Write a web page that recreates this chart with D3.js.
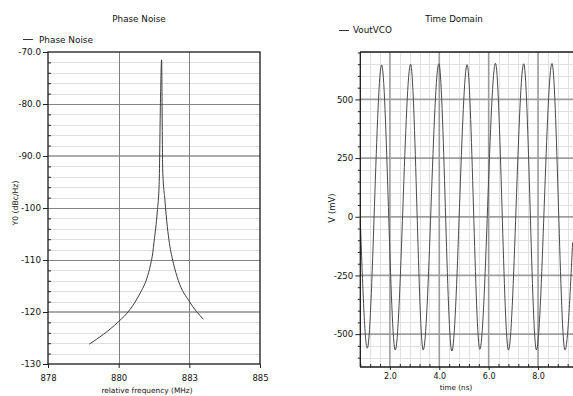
<!DOCTYPE html>
<html>
<head>
<meta charset="utf-8">
<script src="https://cdn.jsdelivr.net/npm/d3@7"></script>
<style>
  html, body { margin: 0; padding: 0; background: #fff; }
  svg { display: block; }
  text { font-family: "DejaVu Sans", Verdana, sans-serif; fill: #111; }
</style>
</head>
<body>
<svg id="chart" width="573" height="396"></svg>
<script>
// ---------------- DATA ----------------
// Left: Phase Noise
const pnTitle = "Phase Noise";
const pnLegend = "Phase Noise";
const pnXLabel = "relative frequency (MHz)";
const pnYLabel = "Y0 (dBc/Hz)";
const pnFreq  = [879.36, 879.83, 880.32, 880.71, 881.04, 881.26, 881.39, 881.46, 881.50, 881.61, 881.67, 881.715, 881.75, 881.787, 881.86, 881.94, 882.01, 882.14, 882.30, 882.67, 883.13];
const pnValue = [-126.2, -124.3, -121.9, -119.5, -116.4, -113.6, -110.8, -108.6, -106.6, -100.6, -95.5, -78.9, -71.5, -92.7, -98.5, -103.6, -106.8, -110.6, -113.9, -118.0, -121.4];
const pnXTicks = [878, 880.333, 882.667, 885];
const pnXTickLabels = ["878", "880", "883", "885"];
const pnYTicks = [-70, -80, -90, -100, -110, -120, -130];
const pnYTickLabels = ["-70.0", "-80.0", "-90.0", "-100", "-110", "-120", "-130"];

// Right: Time Domain
const tdTitle = "Time Domain";
const tdLegend = "VoutVCO";
const tdXLabel = "time (ns)";
const tdYLabel = "V (mV)";
const tdTime  = [0.80, 1.082, 1.664, 2.215, 2.837, 3.348, 3.982, 4.508, 5.127, 5.641, 6.276, 6.801, 7.421, 7.934, 8.565, 9.091, 9.40];
const tdValue = [-15, -560, 647, -568, 650, -568, 652, -572, 648, -565, 654, -568, 652, -567, 653, -568, -110];
const tdXTicks = [2, 4, 6, 8];
const tdXTickLabels = ["2.0", "4.0", "6.0", "8.0"];
const tdYTicks = [500, 250, 0, -250, -500];
const tdYTickLabels = ["500", "250", "0", "-250", "-500"];

// ---------------- DRAW ----------------
const svg = d3.select("#chart");
svg.append("rect").attr("width", 573).attr("height", 396).attr("fill", "#fff");

function hline(g, x1, x2, y, stroke, w) {
  g.append("line").attr("x1", x1).attr("x2", x2).attr("y1", y).attr("y2", y)
    .attr("stroke", stroke).attr("stroke-width", w);
}
function vline(g, x, y1, y2, stroke, w) {
  g.append("line").attr("x1", x).attr("x2", x).attr("y1", y1).attr("y2", y2)
    .attr("stroke", stroke).attr("stroke-width", w);
}

// ===== Left chart =====
{
  const x = d3.scaleLinear().domain([878, 885]).range([48, 260]);
  const y = d3.scaleLinear().domain([-130, -70]).range([364, 52]);
  const g = svg.append("g");

  // minor horizontal grid every 2 dB
  const minorY = d3.range(-128, -70, 2).filter(v => v % 10 !== 0);
  minorY.forEach(v => hline(g, x(878), x(885), Math.round(y(v)) + 0.5, "#dedede", 1));
  // major horizontal grid
  pnYTicks.slice(1, -1).forEach(v => {
    const thick = (v === -90 || v === -120);
    hline(g, x(878), x(885), thick ? y(v) : Math.round(y(v)) + 0.5, thick ? "#ababab" : "#858585", thick ? 2 : 1);
  });
  // vertical major grid
  pnXTicks.slice(1, -1).forEach(v => vline(g, Math.round(x(v)) + 0.5, y(-70), y(-130), "#808080", 1));

  // curve
  const line = d3.line().x((d, i) => x(pnFreq[i])).y(d => y(d)).curve(d3.curveMonotoneX);
  g.append("path").datum(pnValue).attr("d", line)
    .attr("fill", "none").attr("stroke", "#3c3c3c").attr("stroke-width", 1);

  // frame
  g.append("rect").attr("x", 48).attr("y", 52).attr("width", 212).attr("height", 312)
    .attr("fill", "none").attr("stroke", "#1a1a1a").attr("stroke-width", 1.3);

  // y axis major ticks (outward) + labels
  const yAxis = d3.axisLeft(y).tickValues(pnYTicks).tickSize(5).tickPadding(2)
    .tickFormat((d, i) => pnYTickLabels[i]);
  const ya = g.append("g").attr("transform", "translate(48,0)").call(yAxis);
  ya.select(".domain").remove();
  ya.selectAll("line").attr("stroke", "#222");
  ya.selectAll("text").style("font-size", "8.8px").attr("fill", "#111");
  // minor ticks inward
  const yMinor = d3.axisLeft(y).tickValues(minorY).tickSize(-3).tickFormat("");
  const ym = g.append("g").attr("transform", "translate(48,0)").call(yMinor);
  ym.select(".domain").remove();
  ym.selectAll("line").attr("stroke", "#222");

  // x axis
  const xAxis = d3.axisBottom(x).tickValues(pnXTicks).tickSize(4).tickPadding(7)
    .tickFormat((d, i) => pnXTickLabels[i]);
  const xa = g.append("g").attr("transform", "translate(0,364)").call(xAxis);
  xa.select(".domain").remove();
  xa.selectAll("line").attr("stroke", "#222");
  xa.selectAll("text").style("font-size", "8.5px").attr("fill", "#111");

  // titles / labels
  g.append("text").attr("x", 139).attr("y", 21.5).attr("text-anchor", "middle")
    .style("font-size", "8.8px").text(pnTitle);
  g.append("text").attr("x", 147).attr("y", 392.5).attr("text-anchor", "middle")
    .style("font-size", "7.4px").text(pnXLabel);
  g.append("text").attr("transform", "translate(18,203) rotate(-90)").attr("text-anchor", "middle")
    .style("font-size", "7.7px").text(pnYLabel);
  // legend
  hline(g, 23, 33, 39.5, "#333", 1);
  g.append("text").attr("x", 39).attr("y", 42.7).style("font-size", "8.9px").text(pnLegend);
}

// ===== Right chart =====
{
  const x = d3.scaleLinear().domain([0.8, 9.4]).range([360.3, 572.6]);
  const y = d3.scaleLinear().domain([-640, 702]).range([367, 52]);
  const g = svg.append("g");
  const xR = 573;

  // minor grid
  const minorX = d3.range(0.8, 9.4, 0.4).map(v => +v.toFixed(1)).filter(v => Math.abs(v / 2 - Math.round(v / 2)) > 1e-6);
  const minorY = d3.range(-600, 701, 50).filter(v => v % 250 !== 0);
  minorX.forEach(v => vline(g, Math.round(x(v)) + 0.5, 52, 367, "#e0e0e0", 1));
  minorY.forEach(v => hline(g, 360, xR, Math.round(y(v)) + 0.5, "#e0e0e0", 1));
  // major grid
  tdXTicks.forEach(v => vline(g, x(v), 52, 367, "#9a9a9a", 1.6));
  tdYTicks.forEach(v => hline(g, 360, xR, y(v), "#9e9e9e", 1.8));

  // waveform
  const line = d3.line().x((d, i) => x(tdTime[i])).y(d => y(d)).curve(d3.curveMonotoneX);
  g.append("path").datum(tdValue).attr("d", line)
    .attr("fill", "none").attr("stroke", "#4a4a4a").attr("stroke-width", 1);

  // frame (left, top, bottom)
  hline(g, 360, xR, 52, "#1a1a1a", 1.3);
  hline(g, 360, xR, 367, "#1a1a1a", 1.3);
  vline(g, 360.3, 52, 367, "#1a1a1a", 1.3);

  // y axis
  const yAxis = d3.axisLeft(y).tickValues(tdYTicks).tickSize(5).tickPadding(2)
    .tickFormat((d, i) => tdYTickLabels[i]);
  const ya = g.append("g").attr("transform", "translate(360.3,0)").call(yAxis);
  ya.select(".domain").remove();
  ya.selectAll("line").attr("stroke", "#222");
  ya.selectAll("text").style("font-size", "8.6px").attr("fill", "#111");
  const yMinor = d3.axisLeft(y).tickValues(minorY).tickSize(2.5).tickFormat("");
  const ym = g.append("g").attr("transform", "translate(360.3,0)").call(yMinor);
  ym.select(".domain").remove();
  ym.selectAll("line").attr("stroke", "#222");

  // x axis
  const xAxis = d3.axisBottom(x).tickValues(tdXTicks).tickSize(3).tickPadding(3)
    .tickFormat((d, i) => tdXTickLabels[i]);
  const xa = g.append("g").attr("transform", "translate(0,367)").call(xAxis);
  xa.select(".domain").remove();
  xa.selectAll("line").attr("stroke", "#222");
  xa.selectAll("text").style("font-size", "8px").attr("fill", "#111");
  const xMinor = d3.axisBottom(x).tickValues(minorX).tickSize(-3).tickFormat("");
  const xm = g.append("g").attr("transform", "translate(0,367)").call(xMinor);
  xm.select(".domain").remove();
  xm.selectAll("line").attr("stroke", "#222");

  // titles / labels
  g.append("text").attr("x", 454).attr("y", 21.5).attr("text-anchor", "middle")
    .style("font-size", "8.7px").text(tdTitle);
  g.append("text").attr("x", 456).attr("y", 389.5).attr("text-anchor", "middle")
    .style("font-size", "7.2px").text(tdXLabel);
  g.append("text").attr("transform", "translate(334.5,208) rotate(-90)").attr("text-anchor", "middle")
    .style("font-size", "8.5px").text(tdYLabel);
  // legend
  hline(g, 339, 349, 30.5, "#333", 1);
  g.append("text").attr("x", 353).attr("y", 33.3).style("font-size", "8.8px").text(tdLegend);
}
</script>
</body>
</html>
